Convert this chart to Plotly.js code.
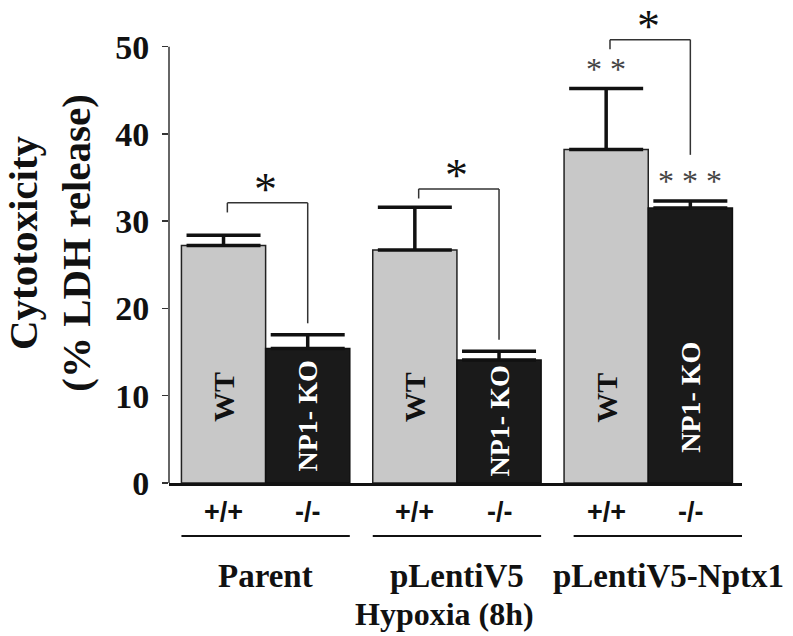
<!DOCTYPE html>
<html>
<head>
<meta charset="utf-8">
<script src="https://cdn.plot.ly/plotly-3.0.1.min.js"></script>
<style>html,body{margin:0;padding:0;background:#fff;}#chart{width:793px;height:636px;}</style>
</head>
<body>
<div id="chart"></div>
<script>
// ---- data ----
const groups = ['Parent', 'pLentiV5', 'pLentiV5-Nptx1'];
const genotypeLabels = ['+/+', '-/-'];
const barLabels = ['WT', 'NP1- KO'];
const wtMean = [27.2, 26.7, 38.2];
const wtErr = [1.2, 4.9, 7.0];
const koMean = [15.4, 14.1, 31.5];
const koErr = [1.6, 1.0, 0.8];
const yTicks = [0, 10, 20, 30, 40, 50];
// significance marks
const sigPair = ['*', '*', '*'];            // WT vs NP1-KO within group
const sigWt = ['', '', '* *'];              // WT vs parent control
const sigKo = ['', '', '* * *'];            // KO vs parent control
const bracketTop = [32.1, 33.7, 50.8];
const bracketRightEnd = [18.3, 16.4, 37.6];
const xTitle = 'Hypoxia (8h)';
const yTitle = 'Cytotoxicity<br>(% LDH release)';

const SERIF = 'Liberation Serif, Times New Roman, serif';
const SANS = 'Liberation Sans, Arial, sans-serif';
const bargap = 0.12;
const off = (1 - bargap) / 4;      // offset of each bar centre from the group centre

const traces = [
  {
    type: 'bar', name: 'WT', x: groups, y: wtMean,
    marker: {color: '#c8c8c8', line: {color: '#222', width: 1.5}},
    error_y: {type: 'data', symmetric: false, array: wtErr, arrayminus: wtErr.map(() => 0),
              color: '#111', thickness: 3.5, width: 37},
    hoverinfo: 'y'
  },
  {
    type: 'bar', name: 'NP1-KO', x: groups, y: koMean,
    marker: {color: '#1a1a1a', line: {color: '#111', width: 1.5}},
    error_y: {type: 'data', symmetric: false, array: koErr, arrayminus: koErr.map(() => 0),
              color: '#111', thickness: 3.5, width: 37},
    hoverinfo: 'y'
  }
];

const shapes = [];
const annotations = [];

// y axis line (drawn only from 0 to 50)
shapes.push({type: 'line', xref: 'paper', yref: 'y', x0: 0, x1: 0,
  y0: yTicks[0], y1: yTicks[yTicks.length - 1], line: {color: '#333', width: 1.5}});

groups.forEach((g, i) => {
  const xl = i - off, xr = i + off;
  // bracket
  const lc = {color: '#333', width: 1.5};
  shapes.push({type: 'line', xref: 'x', yref: 'y', x0: xl + 0.02, x1: xl + 0.02, y0: bracketTop[i] - 1.1, y1: bracketTop[i], line: lc});
  shapes.push({type: 'line', xref: 'x', yref: 'y', x0: xl + 0.02, x1: xr, y0: bracketTop[i], y1: bracketTop[i], line: lc});
  shapes.push({type: 'line', xref: 'x', yref: 'y', x0: xr, x1: xr, y0: bracketTop[i], y1: bracketRightEnd[i], line: lc});
  annotations.push({x: i, y: bracketTop[i], xref: 'x', yref: 'y', text: sigPair[i], showarrow: false,
    yanchor: 'bottom', yshift: -14, font: {family: SERIF, size: 46, color: '#111'}});
  if (sigWt[i]) annotations.push({x: xl, y: wtMean[i] + wtErr[i], xref: 'x', yref: 'y', text: sigWt[i], showarrow: false,
    yanchor: 'bottom', yshift: 0, font: {family: SERIF, size: 32, color: '#444'}});
  if (sigKo[i]) annotations.push({x: xr, y: koMean[i] + koErr[i], xref: 'x', yref: 'y', text: sigKo[i], showarrow: false,
    yanchor: 'bottom', yshift: 0, font: {family: SERIF, size: 32, color: '#444'}});

  // labels inside bars
  annotations.push({x: xl, y: Math.min(9.8, wtMean[i] / 2), xref: 'x', yref: 'y', text: barLabels[0], textangle: -90,
    showarrow: false, font: {family: SERIF, size: 30, color: '#111', weight: 'bold'}});
  annotations.push({x: xr, y: Math.min(9.8, koMean[i] / 2), xref: 'x', yref: 'y', text: barLabels[1], textangle: -90,
    showarrow: false, font: {family: SERIF, size: 28, color: '#fff', weight: 'bold'}});

  // genotype labels
  annotations.push({x: xl, y: 0, xref: 'x', yref: 'paper', yshift: -29, text: genotypeLabels[0], showarrow: false,
    yanchor: 'middle', font: {family: SANS, size: 27, color: '#111', weight: 'bold'}});
  annotations.push({x: xr, y: 0, xref: 'x', yref: 'paper', yshift: -29, text: genotypeLabels[1], showarrow: false,
    yanchor: 'middle', font: {family: SANS, size: 27, color: '#111', weight: 'bold'}});
  // underline
  shapes.push({type: 'line', xref: 'x', yref: 'paper', ysizemode: 'pixel', yanchor: 0,
    x0: i - 2 * off + (i === 2 ? 0.05 : 0), x1: i + 2 * off + (i === 2 ? 0.05 : 0), y0: -53, y1: -53,
    line: {color: '#111', width: 2}});
  // group label
  annotations.push({x: i, y: 0, xref: 'x', yref: 'paper', yshift: -93, xshift: i === 2 ? 20 : 0, text: g, showarrow: false,
    yanchor: 'middle', font: {family: SERIF, size: 33, color: '#111', weight: 'bold'}});
});

annotations.push({x: 0.48, y: 0, xref: 'paper', yref: 'paper', yshift: -131, text: xTitle, showarrow: false,
  yanchor: 'middle', font: {family: SERIF, size: 32, color: '#111', weight: 'bold'}});

const layout = {
  width: 793, height: 636,
  margin: {l: 169, r: 51, t: 3, b: 153},
  paper_bgcolor: '#fff', plot_bgcolor: '#fff',
  barmode: 'group', bargap: bargap, bargroupgap: 0,
  showlegend: false,
  xaxis: {
    type: 'category', range: [-0.505, 2.49], showticklabels: false, ticks: '',
    showline: true, linecolor: '#111', linewidth: 2.5, showgrid: false, zeroline: false, fixedrange: true
  },
  yaxis: {
    range: [0, 55], tickvals: yTicks, ticktext: yTicks.map(String),
    ticks: 'outside', ticklen: 6, tickwidth: 1.5, tickcolor: '#333',
    ticklabelstandoff: 6,
    showline: false, showgrid: false, zeroline: false, fixedrange: true,
    tickfont: {family: SERIF, size: 34, color: '#111', weight: 'bold'},
    title: {text: yTitle, standoff: 12, font: {family: SERIF, size: 41, color: '#111', weight: 'bold'}}
  },
  shapes: shapes,
  annotations: annotations
};

Plotly.newPlot('chart', traces, layout, {displayModeBar: false, staticPlot: true});
</script>
</body>
</html>
